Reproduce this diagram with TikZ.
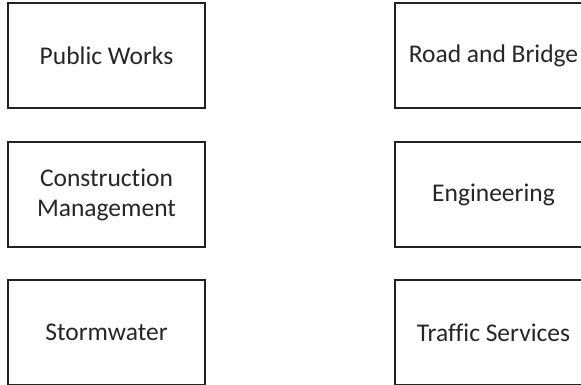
\documentclass[tikz,border=0pt]{standalone}
\usepackage{fontspec}
\setmainfont{Carlito}[Ligatures=NoCommon]
\usepackage{tikz}
\definecolor{boxline}{HTML}{222222}
\definecolor{boxtext}{HTML}{262626}
\def\unitfont{\fontsize{25.5}{30}\selectfont}

\begin{document}
\begin{tikzpicture}[x=1pt,y=1pt,
    unit/.style={draw=boxline,line width=2.8pt,text=boxtext,font=\unitfont,
      align=center,minimum width=197pt,minimum height=105pt,inner sep=0pt}]
                \useasboundingbox (0,0) rectangle (581,-384);
                \clip (0,0) rectangle (581,-384);
                % left column
                \node[unit] (works)   at (106.5, -55.5) {Public Works};
                \node[unit] (constr)  at (106.5,-194.5) {Construction\\Management};
                \node[unit] (storm)   at (106.5,-332.5) {Stormwater};
                % right column
                \node[unit] (road)    at (493.5, -55.5) {Road and Bridge};
                \node[unit] (eng)     at (493.5,-194.5) {Engineering};
                \node[unit] (traffic) at (493.5,-332.5) {Traffic Services};
            \end{tikzpicture}
\end{document}
